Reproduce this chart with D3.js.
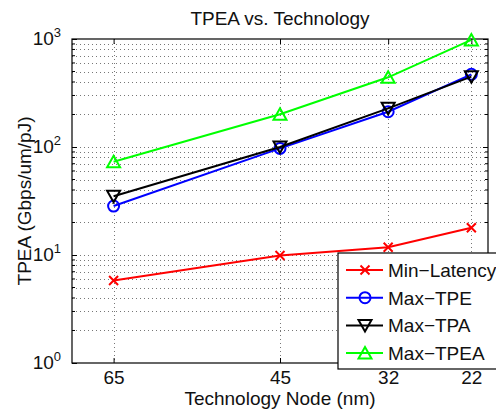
<!DOCTYPE html>
<html><head><meta charset="utf-8">
<script src="https://cdn.jsdelivr.net/npm/d3@7"></script>
<style>body{margin:0;background:#fff}svg{display:block;font-family:"Liberation Sans",Arial,sans-serif}</style>
</head><body>
<svg id="c" width="496" height="413"></svg>
<script>
const nodes = [65, 45, 32, 22];
const minLatency = [5.8, 9.9, 11.8, 17.9];
const maxTPE = [28.4, 97, 212, 471];
const maxTPA = [35, 100, 228, 448];
const maxTPEA = [73, 201, 442, 980];
const xTicks = [65, 45, 32, 22];
const yTicks = [1, 10, 100, 1000];

const series = [
  {name: "Min\u2212Latency", values: minLatency, color: "#ff0000", marker: "x"},
  {name: "Max\u2212TPE", values: maxTPE, color: "#0000ff", marker: "o"},
  {name: "Max\u2212TPA", values: maxTPA, color: "#000000", marker: "v"},
  {name: "Max\u2212TPEA", values: maxTPEA, color: "#00ff00", marker: "^"}
];

const L = 72, R = 488, T = 39, B = 363;
const svg = d3.select("#c");
const x = d3.scaleLinear().domain([70, 20]).range([L, R]);
const y = d3.scaleLog().domain([1, 1000]).range([B, T]);

// grid
const minor = [];
for (let d = 1; d < 1000; d *= 10) for (let k = 1; k < 10; k++) minor.push(d * k);
minor.push(1000);
const g = svg.append("g");
g.selectAll("line.hy").data(minor.filter(v => v > 1 && v < 1000)).enter().append("line")
  .attr("x1", L).attr("x2", R).attr("y1", d => Math.round(y(d)) + 0.5).attr("y2", d => Math.round(y(d)) + 0.5)
  .attr("stroke", "#777").attr("stroke-width", 1).attr("stroke-dasharray", "1,3");
g.selectAll("line.vx").data(xTicks).enter().append("line")
  .attr("y1", T).attr("y2", B).attr("x1", d => Math.round(x(d)) + 0.5).attr("x2", d => Math.round(x(d)) + 0.5)
  .attr("stroke", "#777").attr("stroke-width", 1).attr("stroke-dasharray", "1,3");

// axes
const ax = svg.append("g").attr("transform", `translate(0,${B})`)
  .call(d3.axisBottom(x).tickValues(xTicks).tickSize(-5).tickPadding(8).tickFormat(d3.format("d")));
ax.select(".domain").remove();
ax.selectAll("text").attr("font-size", 19).attr("fill", "#111");
ax.selectAll("line").attr("stroke", "#000");
const axT = svg.append("g").attr("transform", `translate(0,${T})`)
  .call(d3.axisTop(x).tickValues(xTicks).tickSize(-5).tickFormat(""));
axT.select(".domain").remove();

const ay = svg.append("g").attr("transform", `translate(${L},0)`)
  .call(d3.axisLeft(y).tickValues(yTicks).tickSize(-5).tickFormat(""));
ay.select(".domain").remove();
const ayr = svg.append("g").attr("transform", `translate(${R},0)`)
  .call(d3.axisRight(y).tickValues(yTicks).tickSize(-5).tickFormat(""));
ayr.select(".domain").remove();
// minor ticks
svg.append("g").selectAll("line").data(minor.filter(v => yTicks.indexOf(v) < 0)).enter().append("line")
  .attr("x1", L).attr("x2", L + 3).attr("y1", d => y(d)).attr("y2", d => y(d)).attr("stroke", "#000");
svg.append("g").selectAll("line").data(minor.filter(v => yTicks.indexOf(v) < 0)).enter().append("line")
  .attr("x1", R).attr("x2", R - 3).attr("y1", d => y(d)).attr("y2", d => y(d)).attr("stroke", "#000");

// y tick labels
const yl = svg.append("g").selectAll("text").data(yTicks).enter().append("text")
  .attr("x", L - 11).attr("y", d => y(d) + 6).attr("text-anchor", "end").attr("font-size", 19).attr("fill", "#111");
yl.append("tspan").text("10");
yl.append("tspan").attr("dy", -8).attr("font-size", 13).text(d => Math.round(Math.log10(d)));

// box
svg.append("rect").attr("x", L).attr("y", T).attr("width", R - L).attr("height", B - T)
  .attr("fill", "none").attr("stroke", "#000").attr("stroke-width", 1.2);

// lines
const line = d3.line().x((d, i) => x(nodes[i])).y(d => y(d));
function drawMarker(sel, type, color, cx, cy) {
  if (type === "x") {
    const s = 4.5;
    sel.append("path").attr("d", `M${cx-s},${cy-s}L${cx+s},${cy+s}M${cx-s},${cy+s}L${cx+s},${cy-s}`)
      .attr("stroke", color).attr("stroke-width", 2).attr("fill", "none");
  } else if (type === "o") {
    sel.append("circle").attr("cx", cx).attr("cy", cy).attr("r", 5.5)
      .attr("stroke", color).attr("stroke-width", 2).attr("fill", "none");
  } else if (type === "v") {
    sel.append("path").attr("d", `M${cx-6.5},${cy-5.5}L${cx+6.5},${cy-5.5}L${cx},${cy+6}Z`)
      .attr("stroke", color).attr("stroke-width", 2).attr("fill", "none");
  } else {
    sel.append("path").attr("d", `M${cx-6.5},${cy+5.5}L${cx+6.5},${cy+5.5}L${cx},${cy-6}Z`)
      .attr("stroke", color).attr("stroke-width", 2).attr("fill", "none");
  }
}
series.forEach(s => {
  const gg = svg.append("g");
  gg.append("path").attr("d", line(s.values)).attr("fill", "none").attr("stroke", s.color).attr("stroke-width", 2);
  s.values.forEach((v, i) => drawMarker(gg, s.marker, s.color, x(nodes[i]), y(v)));
});

// title, labels
svg.append("text").attr("x", (L + R) / 2).attr("y", 25).attr("text-anchor", "middle")
  .attr("font-size", 19).attr("fill", "#111").text("TPEA vs. Technology");
svg.append("text").attr("x", (L + R) / 2).attr("y", 405).attr("text-anchor", "middle")
  .attr("font-size", 19).attr("fill", "#111").text("Technology Node (nm)");
svg.append("text").attr("transform", `translate(31,${(T + B) / 2}) rotate(-90)`).attr("text-anchor", "middle")
  .attr("font-size", 19).attr("fill", "#111").text("TPEA (Gbps/um/pJ)");

// legend
const lg = svg.append("g");
lg.append("rect").attr("x", 338).attr("y", 253).attr("width", 170).attr("height", 116)
  .attr("fill", "#fff").attr("stroke", "#000").attr("stroke-width", 1.2);
series.forEach((s, i) => {
  const cy = 270 + i * 27.7;
  lg.append("line").attr("x1", 346).attr("x2", 383).attr("y1", cy).attr("y2", cy)
    .attr("stroke", s.color).attr("stroke-width", 2);
  drawMarker(lg, s.marker, s.color, 365, cy);
  lg.append("text").attr("x", 388).attr("y", cy + 7).attr("font-size", 19).attr("fill", "#111").text(s.name);
});
</script>
</body></html>
